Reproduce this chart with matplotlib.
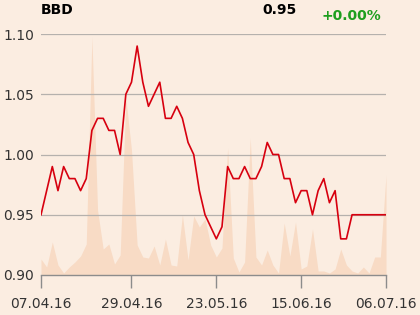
import matplotlib
matplotlib.use("Agg")
import matplotlib.pyplot as plt
import numpy as np

# Price series (one value per trading session)
prices = [0.95, 0.97, 0.99, 0.97, 0.99, 0.98, 0.98, 0.97, 0.98, 1.02,
          1.03, 1.03, 1.02, 1.02, 1.00, 1.05, 1.06, 1.09, 1.06, 1.04,
          1.05, 1.06, 1.03, 1.03, 1.04, 1.03, 1.01, 1.00, 0.97, 0.95,
          0.94, 0.93, 0.94, 0.99, 0.98, 0.98, 0.99, 0.98, 0.98, 0.99,
          1.01, 1.00, 1.00, 0.98, 0.98, 0.96, 0.97, 0.97, 0.95, 0.97,
          0.98, 0.96, 0.97, 0.93, 0.93, 0.95, 0.95, 0.95, 0.95, 0.95,
          0.95, 0.95]

# Trading volume (arbitrary units, thousands)
volume = [16, 8, 33, 10, 2, 8, 13, 19, 31, 238,
          65, 26, 31, 11, 20, 177, 125, 30, 18, 17,
          29, 10, 36, 10, 9, 60, 15, 59, 48, 56,
          30, 18, 27, 127, 17, 3, 13, 137, 18, 10,
          25, 10, 2, 52, 19, 53, 6, 9, 46, 4,
          4, 2, 6, 26, 10, 4, 2, 8, 2, 18,
          18, 100]

tick_idx = [0, 16, 31, 46, 61]
tick_labels = ["07.04.16", "29.04.16", "23.05.16", "15.06.16", "06.07.16"]
y_ticks = [0.90, 0.95, 1.00, 1.05, 1.10]

title = "BBD"
last_price = "0.95"
change = "+0.00%"

bg = "#FBEDE1"
fill_c = "#F8DBC5"
line_c = "#D7000F"
grid_c = "#B5B1AD"
text_c = "#333333"

fig = plt.figure(figsize=(4.2, 3.15), dpi=100, facecolor=bg)
ax = fig.add_axes([41/420, 1-275/315, 345/420, 241/315])
ax.set_facecolor(bg)

x = np.arange(len(prices))

axv = ax.twinx()
axv.fill_between(x, 0, volume, color=fill_c, lw=0, zorder=1)
axv.set_ylim(0, 241)
axv.axis("off")
ax.set_zorder(axv.get_zorder() + 1)
ax.patch.set_visible(False)
fig.patches.append(plt.Rectangle((41/420, 1-275/315), 345/420, 241/315,
                                 transform=fig.transFigure, color=bg, zorder=-5))

ax.plot(x, prices, color=line_c, lw=1.2, zorder=3)

ax.set_xlim(0, len(prices) - 1)
ax.set_ylim(0.90, 1.10)
ax.set_yticks(y_ticks)
ax.set_yticklabels([f"{v:.2f}" for v in y_ticks])
ax.set_xticks(tick_idx)
ax.set_xticklabels(tick_labels)

for v in y_ticks[1:]:
    ax.axhline(v, color=grid_c, lw=0.9, zorder=2)

for s in ["left", "right", "top"]:
    ax.spines[s].set_visible(False)
ax.spines["bottom"].set_color("#8C8C8C")
ax.spines["bottom"].set_linewidth(1.0)

ax.tick_params(axis="x", length=9.5, width=1.0, color="#8C8C8C",
               labelsize=10, labelcolor=text_c, pad=6.5)
ax.tick_params(axis="y", length=0, labelsize=10, labelcolor=text_c, pad=5)

fig.text(41/420, 1-10/315, title, fontsize=10, fontweight="bold",
         color="black", ha="left", va="center")
fig.text(297/420, 1-10/315, last_price, fontsize=10, fontweight="bold",
         color="black", ha="right", va="center")
fig.text(381/420, 1-16/315, change, fontsize=10, fontweight="bold",
         color="#1E9E1E", ha="right", va="center")

fig.savefig("out.png", dpi=100, facecolor=bg)
